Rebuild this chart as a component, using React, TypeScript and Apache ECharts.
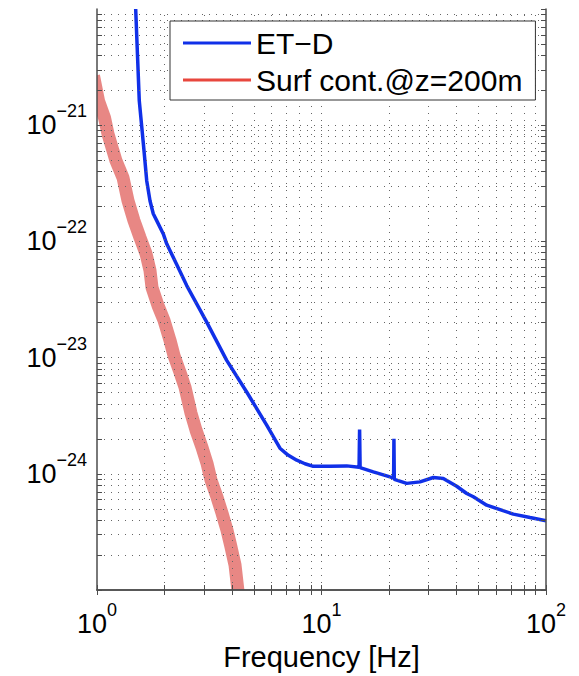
import React, { useEffect, useRef } from 'react';
import * as echarts from 'echarts';

const FONT = '"Liberation Sans", Arial, Helvetica, sans-serif';

// ET-D sensitivity curve (frequency in Hz, strain in 1/sqrt(Hz))
const etdFreq = [
  1.487, 1.543, 1.62, 1.665, 1.722, 1.781, 1.845, 1.974, 2.044, 2.265, 2.51, 3.081,
  3.782, 4.643, 5.7, 6.53, 7.09, 7.76, 8.44, 9.19, 10.91, 12.95, 14.7, 14.78, 14.86,
  17.01, 20.19, 20.95, 21.02, 21.1, 23.96, 27.47, 31.48, 34.87, 40.01, 44.36, 47.46,
  54.43, 71.5, 84.9, 100,
];
const etdStrain = [
  1.0e-20, 1.62e-21, 6.0e-22, 3.33e-22, 2.24e-22, 1.73e-22, 1.51e-22, 1.16e-22, 9.53e-23, 6.33e-23, 4.17e-23, 2.02e-23,
  9.46e-24, 5.06e-24, 2.62e-24, 1.66e-24, 1.45e-24, 1.31e-24, 1.22e-24, 1.16e-24, 1.16e-24, 1.17e-24, 1.14e-24, 2.4e-24, 1.13e-24,
  1.04e-24, 9.4e-25, 9.2e-25, 2.0e-24, 8.95e-25, 8.27e-25, 8.52e-25, 9.29e-25, 9.12e-25, 7.82e-25, 6.77e-25, 6.34e-25,
  5.37e-25, 4.5e-25, 4.2e-25, 3.94e-25,
];

// Surface contribution band (centre of the band)
const surfFreq = [
  0.9647, 1.0155, 1.08, 1.119, 1.178, 1.215, 1.306, 1.374, 1.461, 1.554, 1.653, 1.722, 1.758,
  1.869, 1.988, 2.114, 2.203, 2.343, 2.466, 2.623, 2.761, 2.936, 3.09, 3.22, 3.424,
  3.604, 3.794, 3.953, 4.119, 4.291,
];
const surfStrain = [
  2.66e-21, 1.62e-21, 1.16e-21, 8.43e-22, 6.03e-22, 4.94e-22, 3.53e-22, 2.24e-22, 1.51e-22, 1.08e-22, 7.85e-23, 5.61e-23, 4.01e-23,
  2.81e-23, 2.09e-23, 1.41e-23, 1.04e-23, 7.46e-24, 5.55e-24, 3.32e-24, 2.37e-24, 1.69e-24, 1.23e-24, 8.81e-25, 6.29e-25,
  4.59e-25, 3.27e-25, 2.34e-25, 1.64e-25, 8.2e-26,
];

const seriesNames = ['ET\u2212D', 'Surf cont.@z=200m'];
const xAxisTitle = 'Frequency [Hz]';

const xRange = [1, 100];
const yRange = [1e-25, 1e-20];
const xDecadeExponents = [0, 1];
const yDecadeExponents = [-25, -24, -23, -22, -21];
const minorSteps = [1, 2, 3, 4, 5, 6, 7, 8, 9];

function decadeValues(exps: number[], top: number) {
  const out: number[] = [];
  exps.forEach((e) => minorSteps.forEach((k) => out.push(Number((k * Math.pow(10, e)).toPrecision(4)))));
  out.push(top);
  return out;
}

const xTicks = decadeValues(xDecadeExponents, xRange[1]);
const yTicks = decadeValues(yDecadeExponents, yRange[1]);
const xGrid = xTicks.filter((v) => v > xRange[0] * 1.0001 && v < xRange[1] * 0.9999);
const yGrid = yTicks.filter((v) => v > yRange[0] * 1.0001 && v < yRange[1] * 0.9999);

const AXIS_COLOR = '#4d4d4d';
const BLUE = '#1030e8';
const RED = '#e8473d';
const BAND = 'rgba(217,55,50,0.6)';

function powLabel(v: number) {
  const e = Math.round(Math.log10(v));
  const s = e < 0 ? '\u2212' + -e : String(e);
  return `{base|10}{sup|${s}}`;
}

const rich = {
  base: { fontSize: 27, lineHeight: 46, verticalAlign: 'middle', fontFamily: FONT, color: '#000' },
  sup: { fontSize: 18, lineHeight: 18, verticalAlign: 'top', fontFamily: FONT, color: '#000' },
};

const tickStyle = (values: number[]) => ({
  show: true,
  inside: true,
  length: 5,
  customValues: values,
  lineStyle: { color: AXIS_COLOR, width: 1 },
});

export default function App() {
  const ref = useRef<HTMLDivElement>(null);
  useEffect(() => {
    if (!ref.current) return;
    const chart = echarts.init(ref.current, null, { renderer: 'svg' });
    const option: any = {
      animation: false,
      backgroundColor: '#fff',
      textStyle: { fontFamily: FONT },
      grid: { left: 97, top: 9, right: 33, bottom: 86, containLabel: false, outerBoundsMode: 'none' },
      legend: {
        left: 170,
        top: 21,
        orient: 'vertical',
        backgroundColor: '#fff',
        borderColor: '#333',
        borderWidth: 1,
        borderRadius: 0,
        padding: [7, 13, 5, 13],
        itemGap: 7,
        itemWidth: 68,
        itemHeight: 3,
        selectedMode: false,
        z: 10,
        textStyle: { fontSize: 30, fontFamily: FONT, color: '#000' },
        data: [
          { name: seriesNames[0], icon: 'rect', itemStyle: { color: BLUE, borderWidth: 0 } },
          { name: seriesNames[1], icon: 'rect', itemStyle: { color: RED, borderWidth: 0, opacity: 1 } },
        ],
      },
      xAxis: [
        {
          type: 'log',
          logBase: 10,
          min: xRange[0],
          max: xRange[1],
          position: 'bottom',
          z: 5,
          name: xAxisTitle,
          nameLocation: 'middle',
          nameGap: 42,
          nameTextStyle: { fontSize: 29, fontFamily: FONT, color: '#000' },
          axisLine: { show: true, lineStyle: { color: AXIS_COLOR, width: 1.5 } },
          axisTick: tickStyle(xTicks),
          axisLabel: { margin: 11, formatter: powLabel, rich },
          splitLine: { show: false },
          minorTick: { show: false },
        },
        {
          type: 'log',
          logBase: 10,
          min: xRange[0],
          max: xRange[1],
          position: 'top',
          z: 5,
          axisLine: { show: true, lineStyle: { color: AXIS_COLOR, width: 1.5 } },
          axisTick: tickStyle(xTicks),
          axisLabel: { show: false },
          splitLine: { show: false },
        },
      ],
      yAxis: [
        {
          type: 'log',
          logBase: 10,
          min: yRange[0],
          max: yRange[1],
          position: 'left',
          z: 5,
          axisLine: { show: true, lineStyle: { color: AXIS_COLOR, width: 1.5 } },
          axisTick: tickStyle(yTicks),
          axisLabel: { margin: 10, formatter: powLabel, rich, showMaxLabel: false },
          splitLine: { show: false },
        },
        {
          type: 'log',
          logBase: 10,
          min: yRange[0],
          max: yRange[1],
          position: 'right',
          z: 5,
          axisLine: { show: true, lineStyle: { color: AXIS_COLOR, width: 1.5 } },
          axisTick: tickStyle(yTicks),
          axisLabel: { show: false },
          splitLine: { show: false },
        },
      ],
      series: [
        {
          type: 'line',
          name: 'grid',
          data: [],
          silent: true,
          z: 1,
          markLine: {
            silent: true,
            animation: false,
            precision: -1,
            symbol: ['none', 'none'],
            label: { show: false },
            lineStyle: { type: [1, 6], color: '#666', width: 1 },
            emphasis: { disabled: true },
            data: [
              ...xGrid.map((v) => ({ xAxis: v })),
              ...yGrid.map((v) => ({ yAxis: v })),
            ],
          },
        },
        {
          type: 'custom',
          name: seriesNames[1],
          data: surfFreq.map((f, i) => [f, surfStrain[i]]),
          clip: true,
          silent: true,
          z: 2,
          itemStyle: { color: BAND },
          renderItem: (params: any, api: any) => {
            if (params.dataIndex !== 0) return null;
            const pts = surfFreq.map((f, i) => api.coord([f, surfStrain[i]]));
            return {
              type: 'polyline',
              shape: { points: pts },
              silent: true,
              style: { stroke: BAND, lineWidth: 13, fill: 'none', lineJoin: 'bevel' },
            };
          },
        },
        {
          type: 'line',
          name: seriesNames[0],
          data: etdFreq.map((f, i) => [f, etdStrain[i]]),
          symbol: 'none',
          clip: true,
          silent: true,
          z: 3,
          lineStyle: { color: BLUE, width: 3.5 },
          itemStyle: { color: BLUE },
        },
      ],
    };
    chart.setOption(option);
    return () => chart.dispose();
  }, []);
  return (
    <div
      ref={ref}
      style={{ position: 'absolute', left: 0, top: 0, width: 579, height: 676, background: '#fff' }}
    />
  );
}
